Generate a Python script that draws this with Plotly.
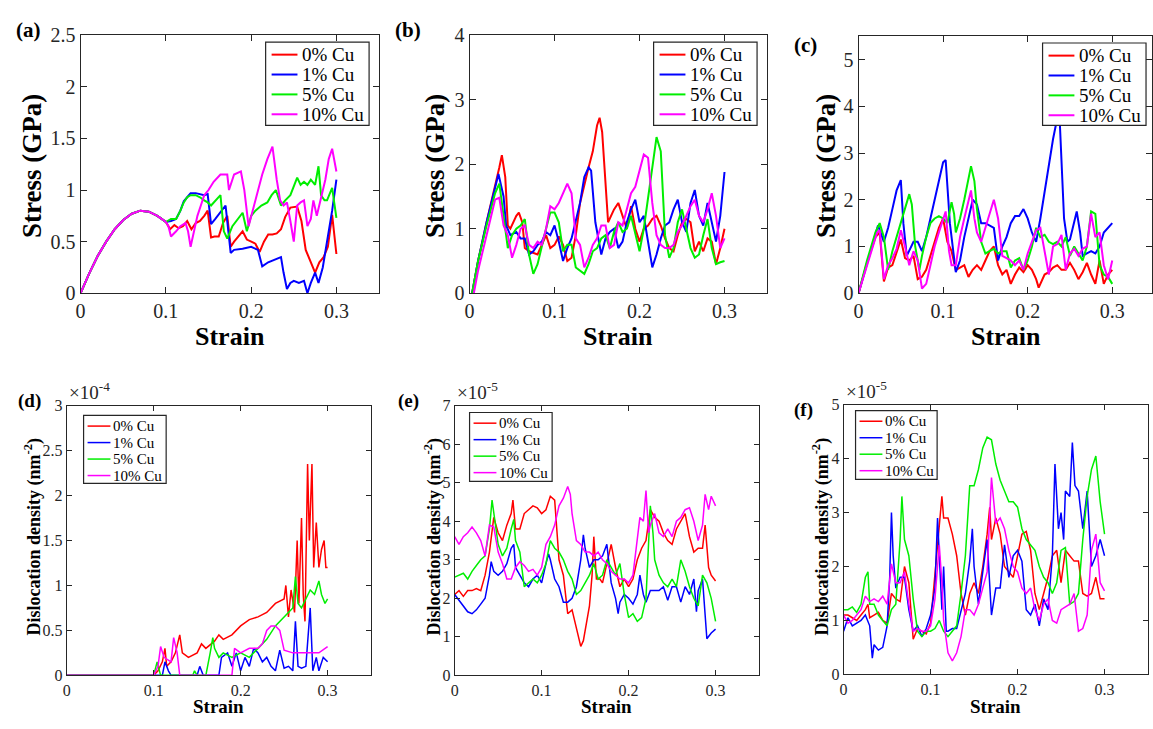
import plotly.graph_objects as go

W, H = 1153, 729
SERIES = ["0% Cu", "1% Cu", "5% Cu", "10% Cu"]
COLORS = ["#ff0000", "#0000ff", "#00ee00", "#ff00ff"]
SERIF = "Liberation Serif"
INK = "#262626"

# ---------------- (a) stress-strain ----------------
A_SHARED_X = [0, 0.01, 0.02, 0.03, 0.04, 0.05, 0.06, 0.07, 0.08, 0.09, 0.095, 0.1]
A_SHARED_Y = [0, 0.19, 0.36, 0.5, 0.62, 0.71, 0.77, 0.8, 0.79, 0.75, 0.72, 0.69]
A_CU0_X = [0.105, 0.11, 0.115, 0.12, 0.125, 0.13, 0.135, 0.14, 0.145, 0.149, 0.153, 0.157, 0.162, 0.167, 0.172, 0.176,
           0.18, 0.185, 0.19, 0.195, 0.2, 0.205, 0.21, 0.215, 0.22, 0.225, 0.23, 0.235, 0.24, 0.246, 0.254, 0.259,
           0.264, 0.27, 0.275, 0.28, 0.285, 0.29, 0.295, 0.3]
A_CU0_Y = [0.62, 0.66, 0.63, 0.65, 0.7, 0.62, 0.68, 0.7, 0.75, 0.8, 0.54, 0.55, 0.55, 0.68, 0.75, 0.45,
           0.5, 0.55, 0.6, 0.52, 0.5, 0.48, 0.4, 0.5, 0.57, 0.57, 0.58, 0.62, 0.74, 0.83, 0.84, 0.7,
           0.42, 0.3, 0.2, 0.3, 0.35, 0.45, 0.76, 0.38]
A_CU1_X = [0.106, 0.112, 0.117, 0.121, 0.125, 0.129, 0.135, 0.14, 0.145, 0.149, 0.153, 0.158, 0.164, 0.17, 0.176,
           0.18, 0.19, 0.2, 0.208, 0.213, 0.22, 0.228, 0.235, 0.238, 0.242, 0.246, 0.25, 0.256, 0.262, 0.266,
           0.27, 0.275, 0.279, 0.284, 0.289, 0.295, 0.3]
A_CU1_Y = [0.7, 0.72, 0.8, 0.89, 0.93, 0.97, 0.97, 0.96, 0.95, 0.96, 0.67, 0.72, 0.78, 0.85, 0.39,
           0.42, 0.43, 0.45, 0.42, 0.26, 0.3, 0.33, 0.35, 0.2, 0.04, 0.1, 0.12, 0.1, 0.12, 0.0,
           0.1, 0.2, 0.1, 0.25, 0.5, 0.8, 1.1]
A_CU5_X = [0.106, 0.112, 0.117, 0.121, 0.125, 0.129, 0.135, 0.14, 0.145, 0.149, 0.153, 0.16, 0.164, 0.168, 0.172,
           0.178, 0.184, 0.19, 0.195, 0.2, 0.205, 0.212, 0.219, 0.224, 0.229, 0.235, 0.24, 0.246, 0.254, 0.258,
           0.262, 0.266, 0.27, 0.275, 0.279, 0.282, 0.286, 0.289, 0.295, 0.3]
A_CU5_Y = [0.72, 0.72, 0.8, 0.88, 0.93, 0.95, 0.95, 0.93, 0.9, 0.88, 0.85, 0.92, 0.95, 0.6, 0.53,
           0.65, 0.72, 0.78, 0.6, 0.75, 0.8, 0.85, 0.88, 0.95, 1.0, 0.85, 0.9, 0.95, 1.12, 1.05,
           1.08, 1.05, 1.1, 1.05, 1.23, 0.95, 0.9, 0.9, 1.02, 0.73]
A_CU10_X = [0.103, 0.106, 0.112, 0.117, 0.123, 0.126, 0.129, 0.133, 0.137, 0.141, 0.145, 0.15, 0.156, 0.164, 0.172,
            0.174, 0.18, 0.188, 0.192, 0.197, 0.202, 0.207, 0.213, 0.219, 0.225, 0.23, 0.234, 0.238, 0.242, 0.246,
            0.25, 0.254, 0.258, 0.262, 0.266, 0.27, 0.273, 0.277, 0.283, 0.287, 0.291, 0.295, 0.3]
A_CU10_Y = [0.65, 0.55, 0.6, 0.65, 0.68, 0.6, 0.45, 0.6, 0.75, 0.85, 0.95, 1.0, 1.08, 1.15, 1.15,
            1.0, 1.15, 1.18, 1.0, 0.65, 0.8, 0.95, 1.15, 1.3, 1.42, 1.1, 0.9, 0.85, 0.88, 0.7,
            0.5, 0.85, 0.88, 0.9, 0.65, 0.72, 0.9, 0.75, 0.95, 1.1, 1.3, 1.4, 1.18]

# ---------------- (b) stress-strain ----------------
B_CU0_X = [0.003, 0.01, 0.02, 0.03, 0.035, 0.038, 0.042, 0.045, 0.048, 0.055, 0.058, 0.062, 0.065, 0.07, 0.08,
           0.085, 0.09, 0.095, 0.1, 0.105, 0.11, 0.115, 0.12, 0.125, 0.13, 0.14, 0.145, 0.15, 0.153, 0.156,
           0.16, 0.163, 0.17, 0.175, 0.18, 0.185, 0.19, 0.195, 0.2, 0.205, 0.21, 0.215, 0.22, 0.225, 0.23,
           0.235, 0.24, 0.245, 0.25, 0.255, 0.26, 0.265, 0.27, 0.275, 0.28, 0.285, 0.29, 0.295, 0.3]
B_CU0_Y = [0.0, 0.5, 1.1, 1.65, 1.95, 2.14, 1.8, 1.05, 1.0, 1.2, 1.25, 1.1, 0.7, 0.65, 0.6,
           0.75, 0.9, 0.7, 0.75, 0.88, 0.75, 0.5, 0.55, 0.9, 1.4, 1.95, 2.2, 2.6, 2.72, 2.5,
           1.6, 1.1, 1.3, 1.4, 1.2, 1.0, 1.35, 1.0, 0.8, 1.0, 1.05, 1.15, 1.2, 1.05, 0.85,
           0.7, 0.65, 0.9, 1.1, 1.15, 1.1, 0.65, 0.8, 0.65, 0.85, 0.8, 0.45, 0.7, 1.0]
B_CU1_X = [0.003, 0.01, 0.02, 0.03, 0.034, 0.04, 0.043, 0.048, 0.055, 0.06, 0.065, 0.07, 0.075, 0.08, 0.085,
           0.09, 0.095, 0.1, 0.105, 0.11, 0.115, 0.12, 0.13, 0.135, 0.14, 0.143, 0.148, 0.155, 0.16, 0.165,
           0.17, 0.175, 0.18, 0.185, 0.19, 0.195, 0.2, 0.205, 0.21, 0.215, 0.22, 0.225, 0.23, 0.235, 0.24,
           0.245, 0.25, 0.255, 0.26, 0.265, 0.27, 0.275, 0.28, 0.285, 0.29, 0.295, 0.3]
B_CU1_Y = [0.0, 0.5, 1.1, 1.65, 1.85, 1.5, 1.05, 0.9, 0.95, 0.85, 0.85, 0.6, 0.65, 0.75, 0.8,
           0.95, 0.9, 1.05, 0.8, 0.5, 0.7, 0.85, 1.4, 1.8, 1.95, 1.9, 1.1, 0.6, 0.85, 0.95,
           1.0, 0.7, 0.8, 1.1, 1.3, 1.45, 1.1, 1.2, 0.8, 0.4, 0.6, 0.85, 1.05, 1.1, 1.3,
           1.45, 1.1, 0.95, 1.4, 1.6, 1.2, 1.05, 1.4, 1.1, 0.8, 1.2, 1.88]
B_CU5_X = [0.003, 0.01, 0.02, 0.03, 0.035, 0.04, 0.045, 0.05, 0.055, 0.06, 0.065, 0.07, 0.075, 0.08, 0.085,
           0.09, 0.095, 0.1, 0.105, 0.11, 0.115, 0.12, 0.125, 0.13, 0.135, 0.14, 0.145, 0.15, 0.155, 0.16,
           0.165, 0.17, 0.175, 0.18, 0.185, 0.19, 0.195, 0.2, 0.205, 0.21, 0.215, 0.22, 0.225, 0.23, 0.235,
           0.24, 0.245, 0.25, 0.255, 0.26, 0.265, 0.27, 0.275, 0.28, 0.285, 0.29, 0.295, 0.3]
B_CU5_Y = [0.0, 0.5, 1.05, 1.55, 1.7, 1.2, 0.7, 0.9, 1.0, 1.05, 1.15, 0.6, 0.3, 0.45, 0.75,
           1.0, 1.25, 1.25, 1.1, 0.65, 0.75, 0.75, 0.4, 0.35, 0.3, 0.45, 0.65, 0.7, 0.85, 0.9,
           0.7, 0.95, 1.1, 0.95, 1.0, 1.2, 0.9, 0.65, 1.0, 1.5, 2.0, 2.42, 2.2, 0.9, 0.55,
           0.7, 1.1, 1.3, 1.0, 0.7, 0.55, 0.6, 0.9, 1.15, 0.7, 0.45, 0.48, 0.5]
B_CU10_X = [0.005, 0.01, 0.02, 0.03, 0.035, 0.04, 0.045, 0.05, 0.055, 0.06, 0.065, 0.07, 0.075, 0.08, 0.085,
            0.09, 0.095, 0.1, 0.105, 0.11, 0.115, 0.12, 0.125, 0.13, 0.135, 0.14, 0.145, 0.15, 0.155, 0.16,
            0.165, 0.17, 0.175, 0.18, 0.185, 0.19, 0.195, 0.2, 0.205, 0.21, 0.215, 0.22, 0.225, 0.23, 0.235,
            0.24, 0.245, 0.25, 0.255, 0.26, 0.265, 0.27, 0.275, 0.28, 0.285, 0.29, 0.295, 0.3]
B_CU10_Y = [0.0, 0.35, 0.9, 1.45, 1.48, 1.05, 0.9, 0.55, 0.75, 1.0, 1.05, 0.75, 0.7, 0.8, 0.75,
            1.0, 1.35, 1.3, 1.4, 1.55, 1.7, 1.55, 0.85, 0.75, 0.4, 0.55, 0.75, 0.85, 1.05, 1.05,
            0.7, 0.75, 1.1, 1.05, 1.3, 1.55, 1.65, 1.9, 2.15, 2.1, 1.4, 0.9, 0.75, 0.7, 0.7,
            0.75, 0.95, 1.05, 1.2, 1.35, 1.45, 1.2, 1.1, 1.3, 1.55, 1.2, 0.7, 0.85]

# ---------------- (c) stress-strain ----------------
C_CU0_X = [0, 0.01, 0.02, 0.025, 0.03, 0.035, 0.04, 0.045, 0.05, 0.055, 0.06, 0.065, 0.07, 0.075, 0.08,
           0.085, 0.09, 0.095, 0.1, 0.105, 0.11, 0.115, 0.12, 0.125, 0.13, 0.135, 0.14, 0.145, 0.15, 0.155,
           0.16, 0.165, 0.17, 0.175, 0.18, 0.185, 0.19, 0.195, 0.2, 0.205, 0.21, 0.213, 0.22, 0.225, 0.23,
           0.235, 0.24, 0.245, 0.25, 0.255, 0.26, 0.265, 0.27, 0.275, 0.28, 0.285, 0.29, 0.295, 0.3]
C_CU0_Y = [0.0, 0.65, 1.2, 1.3, 0.25, 0.55, 0.6, 0.9, 1.15, 0.75, 0.7, 0.8, 0.3, 0.35, 0.5,
           0.8, 1.1, 1.4, 1.6, 1.1, 0.9, 0.5, 0.55, 0.6, 0.35, 0.5, 0.6, 0.5, 0.7, 0.9,
           1.0, 0.6, 0.4, 0.5, 0.2, 0.4, 0.55, 0.45, 0.6, 0.5, 0.3, 0.12, 0.4, 0.45, 0.55,
           0.6, 0.5, 0.5, 0.65, 0.5, 0.3, 0.45, 0.65, 0.4, 0.2, 0.7, 0.2, 0.4, 0.5]
C_CU1_X = [0, 0.01, 0.02, 0.023, 0.03, 0.035, 0.04, 0.045, 0.05, 0.053, 0.057, 0.06, 0.065, 0.07, 0.075,
           0.08, 0.085, 0.09, 0.095, 0.1, 0.103, 0.108, 0.115, 0.12, 0.125, 0.13, 0.135, 0.14, 0.145, 0.15,
           0.155, 0.16, 0.165, 0.17, 0.175, 0.18, 0.185, 0.19, 0.195, 0.2, 0.205, 0.21, 0.215, 0.22, 0.225,
           0.23, 0.235, 0.238, 0.243, 0.247, 0.25, 0.255, 0.258, 0.262, 0.265, 0.27, 0.275, 0.28, 0.285,
           0.29, 0.295, 0.3]
C_CU1_Y = [0.0, 0.65, 1.3, 1.45, 1.1, 1.4, 1.8, 2.2, 2.42, 1.5, 0.8, 0.9, 1.1, 1.1, 0.9,
           1.2, 1.6, 2.0, 2.4, 2.8, 2.85, 1.5, 0.45, 0.7, 1.2, 1.6, 2.0, 1.9, 1.5, 1.5,
           1.45, 1.4, 0.7, 1.0, 1.2, 1.5, 1.65, 1.65, 1.8, 1.6, 1.3, 1.1, 1.6, 2.2, 2.8,
           3.3, 3.75, 3.65, 1.6, 1.1, 1.15, 1.5, 1.75, 1.3, 0.8, 0.85, 0.9, 0.85, 1.0,
           1.3, 1.4, 1.5]
C_CU5_X = [0, 0.01, 0.02, 0.025, 0.03, 0.035, 0.04, 0.045, 0.05, 0.055, 0.06, 0.063, 0.067, 0.072, 0.075,
           0.08, 0.085, 0.09, 0.095, 0.1, 0.105, 0.11, 0.113, 0.115, 0.12, 0.125, 0.13, 0.133, 0.137, 0.14,
           0.145, 0.15, 0.155, 0.16, 0.165, 0.17, 0.175, 0.18, 0.185, 0.19, 0.195, 0.2, 0.205, 0.21, 0.215,
           0.22, 0.225, 0.23, 0.235, 0.24, 0.245, 0.25, 0.255, 0.26, 0.265, 0.27, 0.275, 0.28, 0.285, 0.29,
           0.295, 0.3]
C_CU5_Y = [0.0, 0.7, 1.3, 1.5, 1.2, 0.5, 0.9, 1.2, 1.5, 1.8, 2.12, 1.9, 1.0, 0.5, 0.8,
           1.2, 1.5, 1.6, 1.65, 1.6, 1.5, 1.95, 1.7, 1.3, 1.6, 2.0, 2.5, 2.72, 2.4, 1.8,
           1.1, 0.85, 0.9, 0.95, 0.85, 0.9, 0.9, 0.55, 0.7, 0.75, 0.5, 0.7, 1.0, 1.4, 1.2,
           1.25, 1.1, 1.05, 1.1, 1.0, 1.2, 0.8, 1.0, 0.85, 0.7, 1.0, 1.75, 1.7, 0.6, 0.4,
           0.35, 0.2]
C_CU10_X = [0, 0.01, 0.022, 0.025, 0.03, 0.035, 0.04, 0.045, 0.05, 0.055, 0.06, 0.065, 0.07, 0.075, 0.08,
            0.085, 0.09, 0.095, 0.1, 0.103, 0.107, 0.11, 0.115, 0.12, 0.125, 0.13, 0.133, 0.137, 0.14, 0.145,
            0.15, 0.155, 0.16, 0.165, 0.17, 0.175, 0.18, 0.185, 0.19, 0.195, 0.2, 0.205, 0.21, 0.215, 0.22,
            0.225, 0.23, 0.235, 0.24, 0.245, 0.25, 0.255, 0.26, 0.265, 0.27, 0.275, 0.28, 0.285, 0.29, 0.295,
            0.3]
C_CU10_Y = [0.0, 0.6, 1.3, 1.35, 0.3, 0.6, 0.75, 0.95, 1.35, 1.0, 0.6, 0.9, 0.7, 0.1, 0.2,
            0.6, 1.0, 1.3, 1.6, 1.75, 0.9, 0.6, 0.6, 1.2, 1.6, 2.0, 2.2, 1.6, 1.3, 1.1,
            1.4, 1.7, 2.0, 1.6, 0.8, 0.75, 0.7, 0.6, 0.7, 0.5, 0.85, 1.1, 1.35, 1.4, 0.9,
            0.4, 1.0, 1.05, 1.25, 0.5, 0.85, 0.95, 0.8, 0.95, 1.0, 1.7, 1.2, 1.3, 0.6, 0.3,
            0.7]

# ---------------- (d) dislocation density, x1e-4 nm^-2 ----------------
D_CU0_X = [0, 0.1, 0.105, 0.11, 0.113, 0.115, 0.12, 0.125, 0.13, 0.133, 0.14, 0.15, 0.155, 0.16, 0.17,
           0.175, 0.18, 0.19, 0.2, 0.21, 0.22, 0.23, 0.24, 0.25, 0.252, 0.255, 0.258, 0.262, 0.265, 0.267,
           0.27, 0.272, 0.274, 0.277, 0.279, 0.282, 0.284, 0.287, 0.29, 0.293, 0.296, 0.298, 0.3]
D_CU0_Y = [0, 0.0, 0.05, 0.15, 0.3, 0.1, 0.15, 0.25, 0.45, 0.25, 0.2, 0.25, 0.35, 0.3, 0.38,
           0.45, 0.4, 0.45, 0.55, 0.62, 0.65, 0.7, 0.8, 0.85, 1.0, 0.65, 0.95, 0.7, 1.5, 0.8,
           1.75, 0.9, 0.6, 2.35, 1.5, 2.35, 1.2, 1.7, 1.2, 1.4, 1.5, 1.2, 1.2]
D_CU1_X = [0, 0.11, 0.113, 0.117, 0.12, 0.15, 0.153, 0.157, 0.175, 0.178, 0.185, 0.19, 0.195, 0.2, 0.205,
           0.21, 0.215, 0.22, 0.225, 0.23, 0.235, 0.24, 0.245, 0.25, 0.255, 0.26, 0.263, 0.266, 0.27, 0.275,
           0.28, 0.283, 0.287, 0.29, 0.295, 0.3]
D_CU1_Y = [0, 0.0, 0.15, 0.05, 0.0, 0.0, 0.1, 0.0, 0.0, 0.2, 0.25, 0.1, 0.25, 0.05, 0.2,
           0.1, 0.3, 0.25, 0.15, 0.2, 0.1, 0.05, 0.28, 0.08, 0.1, 0.05, 0.6, 0.1, 0.08, 0.1,
           0.75, 0.05, 0.2, 0.05, 0.2, 0.15]
D_CU5_X = [0, 0.1, 0.104, 0.108, 0.145, 0.147, 0.15, 0.16, 0.165, 0.168, 0.17, 0.175, 0.18, 0.19, 0.2,
           0.21, 0.22, 0.23, 0.24, 0.25, 0.26, 0.263, 0.266, 0.27, 0.275, 0.28, 0.285, 0.29, 0.293, 0.297,
           0.3]
D_CU5_Y = [0, 0.0, 0.15, 0.0, 0.0, 0.05, 0.0, 0.0, 0.25, 0.42, 0.3, 0.2, 0.25, 0.2, 0.25,
           0.2, 0.3, 0.4, 0.55, 0.65, 0.75, 1.1, 0.8, 0.75, 0.85, 0.95, 0.9, 1.05, 0.9, 0.8,
           0.85]
D_CU10_X = [0, 0.1, 0.105, 0.108, 0.112, 0.12, 0.123, 0.127, 0.13, 0.19, 0.193, 0.2, 0.21, 0.22, 0.225,
            0.23, 0.235, 0.24, 0.245, 0.25, 0.26, 0.27, 0.28, 0.29, 0.3]
D_CU10_Y = [0, 0.0, 0.1, 0.32, 0.2, 0.15, 0.42, 0.25, 0.0, 0.0, 0.3, 0.25, 0.3, 0.3, 0.35,
            0.5, 0.55, 0.55, 0.5, 0.28, 0.25, 0.25, 0.25, 0.25, 0.32]

# ---------------- (e) dislocation density, x1e-5 nm^-2 ----------------
E_CU0_X = [0, 0.005, 0.01, 0.015, 0.02, 0.025, 0.03, 0.035, 0.04, 0.045, 0.05, 0.055, 0.06, 0.065, 0.067,
           0.07, 0.075, 0.08, 0.085, 0.09, 0.095, 0.1, 0.105, 0.11, 0.115, 0.118, 0.12, 0.125, 0.13, 0.135,
           0.14, 0.145, 0.148, 0.152, 0.155, 0.158, 0.16, 0.163, 0.167, 0.17, 0.175, 0.18, 0.185, 0.19, 0.195,
           0.2, 0.205, 0.21, 0.215, 0.22, 0.225, 0.23, 0.235, 0.24, 0.245, 0.25, 0.255, 0.26, 0.265, 0.27,
           0.275, 0.28, 0.285, 0.288, 0.292, 0.295, 0.3]
E_CU0_Y = [2.1, 2.2, 2.05, 2.2, 2.2, 2.25, 2.2, 2.6, 3.2, 4.1, 3.7, 3.5, 3.9, 4.2, 4.55,
           3.8, 3.8, 4.2, 4.3, 4.4, 4.35, 4.2, 4.3, 4.65, 4.55, 3.6, 3.0, 2.6, 1.6, 1.7,
           1.2, 0.75, 0.9, 1.4, 1.8, 2.6, 3.6, 2.5, 2.5, 2.4, 2.9, 3.4, 2.8, 2.3, 2.5,
           2.3, 2.5, 3.0, 3.3, 3.5, 4.3, 4.1, 4.0, 3.7, 3.5, 3.4, 3.8, 4.0, 4.2, 3.6,
           3.2, 3.3, 3.3, 3.9, 2.8, 2.6, 2.45]
E_CU1_X = [0, 0.005, 0.01, 0.015, 0.02, 0.025, 0.03, 0.035, 0.04, 0.042, 0.045, 0.05, 0.055, 0.06, 0.065,
           0.068, 0.07, 0.075, 0.08, 0.085, 0.09, 0.095, 0.1, 0.105, 0.108, 0.11, 0.115, 0.12, 0.125, 0.13,
           0.135, 0.14, 0.145, 0.148, 0.15, 0.155, 0.16, 0.165, 0.17, 0.175, 0.178, 0.18, 0.185, 0.188, 0.19,
           0.195, 0.2, 0.205, 0.21, 0.213, 0.217, 0.22, 0.225, 0.23, 0.235, 0.24, 0.245, 0.25, 0.255, 0.26,
           0.265, 0.27, 0.275, 0.278, 0.28, 0.285, 0.29, 0.295, 0.3]
E_CU1_Y = [2.1, 1.95, 1.8, 1.65, 1.6, 1.7, 1.85, 2.0, 2.6, 2.95, 2.7, 2.6, 2.7, 2.9, 3.3,
           3.4, 2.8, 2.6, 2.4, 2.3, 2.5, 2.6, 2.4, 2.9, 3.15, 3.0, 2.5, 2.3, 1.9, 1.9,
           2.0, 2.3, 3.0, 3.65, 3.3, 2.8, 3.0, 3.0, 3.1, 3.4, 2.7, 2.4, 2.0, 1.6, 1.9,
           2.1, 2.0, 1.85, 2.1, 2.6, 2.1, 1.9, 2.2, 2.2, 2.2, 2.3, 1.95, 2.3, 2.3, 1.9,
           2.3, 2.1, 2.5, 1.65, 2.2, 2.5, 0.95, 1.1, 1.2]
E_CU5_X = [0, 0.005, 0.01, 0.015, 0.02, 0.025, 0.03, 0.035, 0.04, 0.043, 0.046, 0.05, 0.055, 0.06, 0.065,
           0.068, 0.07, 0.075, 0.08, 0.085, 0.09, 0.095, 0.1, 0.105, 0.11, 0.115, 0.12, 0.125, 0.13, 0.135,
           0.14, 0.145, 0.15, 0.155, 0.16, 0.165, 0.17, 0.175, 0.18, 0.185, 0.19, 0.195, 0.2, 0.205, 0.21,
           0.215, 0.22, 0.225, 0.228, 0.23, 0.235, 0.24, 0.245, 0.25, 0.255, 0.26, 0.265, 0.27, 0.275, 0.28,
           0.285, 0.29, 0.295, 0.3]
E_CU5_Y = [2.55, 2.6, 2.65, 2.5, 2.7, 2.85, 3.0, 3.1, 3.8, 4.55, 4.0, 3.4, 3.1, 3.3, 3.8,
           4.05, 3.5, 3.2, 2.3, 2.4, 2.5, 2.4, 2.6, 2.9, 3.5, 3.3, 3.2, 3.0, 2.7, 2.5,
           2.1, 2.2, 2.4, 2.6, 2.9, 2.5, 2.6, 3.0, 2.8, 2.6, 2.9, 2.1, 1.5, 1.6, 1.4,
           1.5, 2.0, 4.4, 3.7, 3.0, 2.6, 2.4, 2.3, 2.5, 2.3, 3.0, 2.7, 2.3, 2.0, 1.8,
           2.6, 2.4, 2.0, 1.4]
E_CU10_X = [0, 0.005, 0.01, 0.015, 0.02, 0.025, 0.03, 0.035, 0.04, 0.045, 0.05, 0.055, 0.06, 0.065, 0.07,
            0.075, 0.08, 0.085, 0.09, 0.095, 0.1, 0.105, 0.11, 0.115, 0.12, 0.125, 0.13, 0.133, 0.135, 0.14,
            0.145, 0.15, 0.155, 0.16, 0.165, 0.17, 0.175, 0.18, 0.185, 0.19, 0.195, 0.2, 0.205, 0.21, 0.213,
            0.217, 0.22, 0.223, 0.225, 0.23, 0.235, 0.24, 0.245, 0.25, 0.255, 0.26, 0.265, 0.27, 0.275, 0.28,
            0.285, 0.288, 0.292, 0.295, 0.3]
E_CU10_Y = [3.6, 3.4, 3.6, 3.7, 3.85, 3.7, 3.5, 3.1, 3.9, 3.85, 3.2, 2.9, 2.5, 2.5, 2.8,
            2.95, 2.85, 2.7, 2.75, 2.6, 2.8, 3.4, 3.6, 3.9, 4.4, 4.6, 4.9, 4.7, 4.2, 3.5,
            3.4, 3.2, 3.2, 3.1, 3.2, 3.0, 2.9, 2.7, 2.6, 2.5, 2.5, 2.4, 2.6, 3.5, 4.1,
            4.0, 4.8, 3.7, 3.9, 4.2, 3.7, 3.6, 3.8, 3.6, 4.0, 4.1, 4.3, 4.35, 4.0, 3.5,
            3.9, 4.7, 4.3, 4.65, 4.4]

# ---------------- (f) dislocation density, x1e-5 nm^-2 ----------------
F_CU0_X = [0, 0.005, 0.01, 0.015, 0.02, 0.025, 0.028, 0.03, 0.035, 0.04, 0.045, 0.05, 0.055, 0.06, 0.065,
           0.07, 0.075, 0.08, 0.085, 0.09, 0.095, 0.1, 0.105, 0.11, 0.113, 0.115, 0.12, 0.125, 0.13, 0.135,
           0.14, 0.145, 0.15, 0.155, 0.16, 0.165, 0.168, 0.17, 0.175, 0.18, 0.185, 0.19, 0.195, 0.2, 0.205,
           0.21, 0.215, 0.22, 0.225, 0.23, 0.235, 0.24, 0.245, 0.25, 0.255, 0.26, 0.265, 0.27, 0.275, 0.28,
           0.285, 0.29, 0.295, 0.3]
F_CU0_Y = [1.1, 1.1, 1.05, 1.0, 1.1, 1.2, 1.3, 1.05, 1.1, 1.15, 1.0, 0.95, 1.5, 1.4, 1.35,
           2.0, 1.7, 0.65, 0.85, 0.8, 0.75, 0.95, 1.9, 2.8, 3.3, 2.9, 2.9, 2.6, 2.2, 1.5,
           1.1, 1.5, 1.7, 1.5, 2.0, 2.6, 3.1, 2.5, 2.9, 2.6, 2.0, 1.9, 1.8, 2.2, 2.6,
           2.65, 2.3, 1.5, 1.2, 1.5, 1.8, 2.2, 2.3, 1.7, 2.3, 2.2, 2.1, 2.1, 1.5, 1.45,
           1.5, 1.8, 1.4, 1.4]
F_CU1_X = [0, 0.005, 0.01, 0.015, 0.02, 0.025, 0.03, 0.033, 0.035, 0.04, 0.045, 0.05, 0.053, 0.055, 0.057,
           0.06, 0.065, 0.07, 0.075, 0.08, 0.085, 0.09, 0.095, 0.1, 0.105, 0.108, 0.11, 0.113, 0.115, 0.118,
           0.12, 0.125, 0.13, 0.135, 0.14, 0.145, 0.148, 0.15, 0.155, 0.16, 0.165, 0.17, 0.175, 0.18, 0.185,
           0.19, 0.195, 0.2, 0.205, 0.21, 0.215, 0.22, 0.225, 0.23, 0.235, 0.24, 0.243, 0.247, 0.25, 0.253,
           0.255, 0.26, 0.263, 0.266, 0.27, 0.275, 0.28, 0.285, 0.29, 0.295, 0.3]
F_CU1_Y = [0.8, 1.05, 0.9, 0.95, 1.0, 1.1, 0.9, 0.3, 0.55, 0.45, 0.5, 0.9, 1.8, 3.0, 2.2,
           1.6, 1.8, 1.8, 1.2, 0.8, 0.9, 0.7, 0.85, 1.1, 1.6, 2.9, 2.1, 1.2, 2.0, 0.8,
           0.8, 0.85, 0.85, 1.2, 1.5, 2.1, 2.7, 2.0, 1.3, 1.9, 2.5, 1.1, 1.6, 1.6, 2.4,
           1.8, 2.2, 2.3, 2.1, 1.2, 1.1, 1.3, 0.9, 1.4, 1.2, 2.2, 3.9, 2.7, 3.0, 2.5,
           3.4, 3.3, 4.3, 3.5, 3.4, 2.7, 3.4, 2.0, 2.2, 2.5, 2.2]
F_CU5_X = [0, 0.005, 0.01, 0.015, 0.02, 0.025, 0.028, 0.03, 0.035, 0.04, 0.045, 0.05, 0.055, 0.06, 0.065,
           0.067, 0.07, 0.075, 0.08, 0.085, 0.09, 0.095, 0.1, 0.105, 0.11, 0.115, 0.12, 0.125, 0.13, 0.135,
           0.14, 0.145, 0.15, 0.155, 0.16, 0.165, 0.17, 0.175, 0.18, 0.185, 0.19, 0.195, 0.2, 0.205, 0.21,
           0.215, 0.22, 0.225, 0.23, 0.235, 0.24, 0.245, 0.25, 0.255, 0.26, 0.265, 0.27, 0.275, 0.28, 0.285,
           0.29, 0.295, 0.3]
F_CU5_Y = [1.2, 1.2, 1.25, 1.15, 1.3, 1.8, 1.9, 1.3, 1.3, 1.1, 1.0, 0.9, 1.2, 1.3, 2.5,
           3.3, 2.5, 2.2, 1.4, 0.8, 0.7, 0.8, 0.8, 0.85, 1.0, 0.8, 0.7, 0.8, 0.9, 1.5,
           2.2, 3.5, 3.5, 3.8, 4.2, 4.4, 4.35, 3.9, 3.6, 3.4, 3.2, 3.2, 3.1, 2.7, 2.5,
           2.4, 2.3, 2.0, 1.8, 1.7, 1.5, 1.7, 2.3, 2.35, 1.3, 1.35, 1.5, 2.5, 3.3, 3.8,
           4.05, 3.2, 2.6]
F_CU10_X = [0, 0.005, 0.01, 0.015, 0.02, 0.025, 0.03, 0.035, 0.04, 0.045, 0.05, 0.055, 0.06, 0.065, 0.07,
            0.075, 0.08, 0.085, 0.09, 0.095, 0.1, 0.105, 0.11, 0.113, 0.115, 0.12, 0.125, 0.13, 0.135, 0.14,
            0.145, 0.15, 0.155, 0.16, 0.165, 0.17, 0.175, 0.18, 0.185, 0.19, 0.195, 0.2, 0.205, 0.21, 0.215,
            0.22, 0.225, 0.23, 0.235, 0.24, 0.245, 0.25, 0.255, 0.26, 0.265, 0.27, 0.275, 0.28, 0.285, 0.29,
            0.295, 0.3]
F_CU10_Y = [1.1, 0.95, 1.0, 1.1, 1.2, 1.45, 1.35, 1.4, 1.35, 1.45, 1.3, 2.05, 1.7, 1.7, 1.9,
            1.3, 0.8, 0.85, 0.8, 0.8, 0.9, 1.4, 2.4, 1.7, 1.0, 0.4, 0.25, 0.4, 0.7, 1.2,
            1.2, 1.1, 1.3, 1.6, 1.9, 3.65, 2.8, 2.9, 2.7, 2.3, 2.0, 1.9, 1.6, 1.5, 1.6,
            1.2, 1.0, 1.3, 1.4, 1.0, 0.95, 1.2, 1.25, 1.3, 1.5, 0.8, 0.85, 1.1, 2.3, 2.6,
            1.7, 1.55]

# Series per panel, in legend order (0%, 1%, 5%, 10% Cu)
PANEL_A = [(A_SHARED_X + A_CU0_X, A_SHARED_Y + A_CU0_Y), (A_SHARED_X + A_CU1_X, A_SHARED_Y + A_CU1_Y),
           (A_SHARED_X + A_CU5_X, A_SHARED_Y + A_CU5_Y), (A_SHARED_X + A_CU10_X, A_SHARED_Y + A_CU10_Y)]
PANEL_B = [(B_CU0_X, B_CU0_Y), (B_CU1_X, B_CU1_Y), (B_CU5_X, B_CU5_Y), (B_CU10_X, B_CU10_Y)]
PANEL_C = [(C_CU0_X, C_CU0_Y), (C_CU1_X, C_CU1_Y), (C_CU5_X, C_CU5_Y), (C_CU10_X, C_CU10_Y)]
PANEL_D = [(D_CU0_X, D_CU0_Y), (D_CU1_X, D_CU1_Y), (D_CU5_X, D_CU5_Y), (D_CU10_X, D_CU10_Y)]
PANEL_E = [(E_CU0_X, E_CU0_Y), (E_CU1_X, E_CU1_Y), (E_CU5_X, E_CU5_Y), (E_CU10_X, E_CU10_Y)]
PANEL_F = [(F_CU0_X, F_CU0_Y), (F_CU1_X, F_CU1_Y), (F_CU5_X, F_CU5_Y), (F_CU10_X, F_CU10_Y)]

# panel geometry in pixels: left, right, top, bottom
PANELS = [
    dict(tag="(a)", data=PANEL_A, box=(76, 376, 25, 291), xmax=0.35, ymax=2.5, dy=0.5, top=True),
    dict(tag="(b)", data=PANEL_B, box=(467, 766, 25, 291), xmax=0.35, ymax=4, dy=1, top=True),
    dict(tag="(c)", data=PANEL_C, box=(858, 1153, 26, 291), xmax=0.347, ymax=5.5, dy=1, top=True),
    dict(tag="(d)", data=PANEL_D, box=(62, 368, 407, 685), xmax=0.35, ymax=3, dy=0.5, top=False, exp="-4"),
    dict(tag="(e)", data=PANEL_E, box=(452, 758, 407, 685), xmax=0.35, ymax=7, dy=1, top=False, exp="-5"),
    dict(tag="(f)", data=PANEL_F, box=(843, 1149, 406, 684), xmax=0.35, ymax=5, dy=1, top=False, exp="-5"),
]
TAG_POS = [(24, 20), (405, 20), (805, 35), (25, 402), (406, 402), (803, 411)]
YTITLE_X = [27, 432, 825, 28, 430, 820]
# legend frames: left, top, right, bottom
LEGEND_BOX = [(262, 32, 366, 118), (652, 32, 756, 118), (1043, 33, 1147, 118),
              (79, 417, 162, 487), (467, 414, 550, 485), (855, 412, 937, 483)]

fig = go.Figure()
annotations, shapes = [], []


def px(x):
    return x / W


def py(y):
    return 1 - y / H


layout = dict(width=W, height=H, margin=dict(l=0, r=0, t=0, b=0),
              paper_bgcolor="white", plot_bgcolor="white", showlegend=False)

for i, p in enumerate(PANELS):
    n = i + 1
    xa = "x" if n == 1 else f"x{n}"
    ya = "y" if n == 1 else f"y{n}"
    l, r, t, b = p["box"]
    top = p["top"]
    width = 2 if top else 1.5
    for (xs, ys), name, col in zip(p["data"], SERIES, COLORS):
        fig.add_trace(go.Scatter(x=xs, y=ys, mode="lines", name=name, xaxis=xa, yaxis=ya,
                                 line=dict(color=col, width=width)))
    tick_size = 20 if top else 16
    common = dict(showline=True, linecolor=INK, linewidth=1, mirror="ticks", ticks="inside",
                  ticklen=6 if top else 5, tickcolor=INK, showgrid=False, zeroline=False,
                  tickfont=dict(family=SERIF, size=tick_size, color=INK))
    layout["xaxis" if n == 1 else f"xaxis{n}"] = dict(
        common, domain=[px(l), px(r)], anchor=ya, range=[0, p["xmax"]],
        tickvals=[0, 0.1, 0.2, 0.3], ticktext=["0", "0.1", "0.2", "0.3"])
    yt = [round(k * p["dy"], 2) for k in range(int(p["ymax"] / p["dy"] + 1e-9) + 1)]
    layout["yaxis" if n == 1 else f"yaxis{n}"] = dict(
        common, domain=[py(b), py(t)], anchor=xa, range=[0, p["ymax"]],
        tickvals=yt, ticktext=[f"{v:g}" for v in yt])

    # legend frame, swatches and labels
    bx0, by0, bx1, by1 = LEGEND_BOX[i]
    shapes.append(dict(type="rect", xref="paper", yref="paper", x0=px(bx0), x1=px(bx1), y0=py(by1), y1=py(by0),
                       fillcolor="white", line=dict(color=INK, width=1.2), layer="above"))
    row_h = 20.5 if top else 17
    first = 13 if top else 11
    sw0, sw1, txt = (6, 32, 35) if top else (4, 27, 28)
    for k, (name, col) in enumerate(zip(SERIES, COLORS)):
        yy = by0 + first + k * row_h
        shapes.append(dict(type="line", xref="paper", yref="paper", x0=px(bx0 + sw0), x1=px(bx0 + sw1),
                           y0=py(yy), y1=py(yy), line=dict(color=col, width=2 if top else 1.5), layer="above"))
        annotations.append(dict(text=name, x=px(bx0 + txt), y=py(yy), xref="paper", yref="paper",
                                showarrow=False, xanchor="left", yanchor="middle",
                                font=dict(family=SERIF, size=19 if top else 15, color="black")))

    # panel tag
    tx, ty = TAG_POS[i]
    annotations.append(dict(text=f"<b>{p['tag']}</b>", x=px(tx), y=py(ty), xref="paper", yref="paper",
                            showarrow=False, xanchor="center", yanchor="middle",
                            font=dict(family=SERIF, size=21 if top else 19, color="black")))
    # axis titles
    annotations.append(dict(text="<b>Strain</b>", x=px((l + (r if i != 2 else 1155)) / 2),
                            y=py(336 if top else 717), xref="paper", yref="paper",
                            showarrow=False, xanchor="center", yanchor="middle",
                            font=dict(family=SERIF, size=26 if top else 19, color="black")))
    ytitle = "<b>Stress (GPa)</b>" if top else "<b>Dislocation density (nm<sup>-2</sup>)</b>"
    annotations.append(dict(text=ytitle, x=px(YTITLE_X[i]), y=py(160 if top else 542),
                            xref="paper", yref="paper", showarrow=False, textangle=-90,
                            xanchor="center", yanchor="middle",
                            font=dict(family=SERIF, size=27 if top else 18, color="black")))
    if "exp" in p:
        annotations.append(dict(text=f"×10<sup>{p['exp']}</sup>", x=px(l), y=py(t - 1),
                                xref="paper", yref="paper", showarrow=False, xanchor="left",
                                yanchor="bottom", font=dict(family=SERIF, size=19, color=INK)))

layout["annotations"] = annotations
layout["shapes"] = shapes
fig.update_layout(**layout)
fig.write_html("out.html")
